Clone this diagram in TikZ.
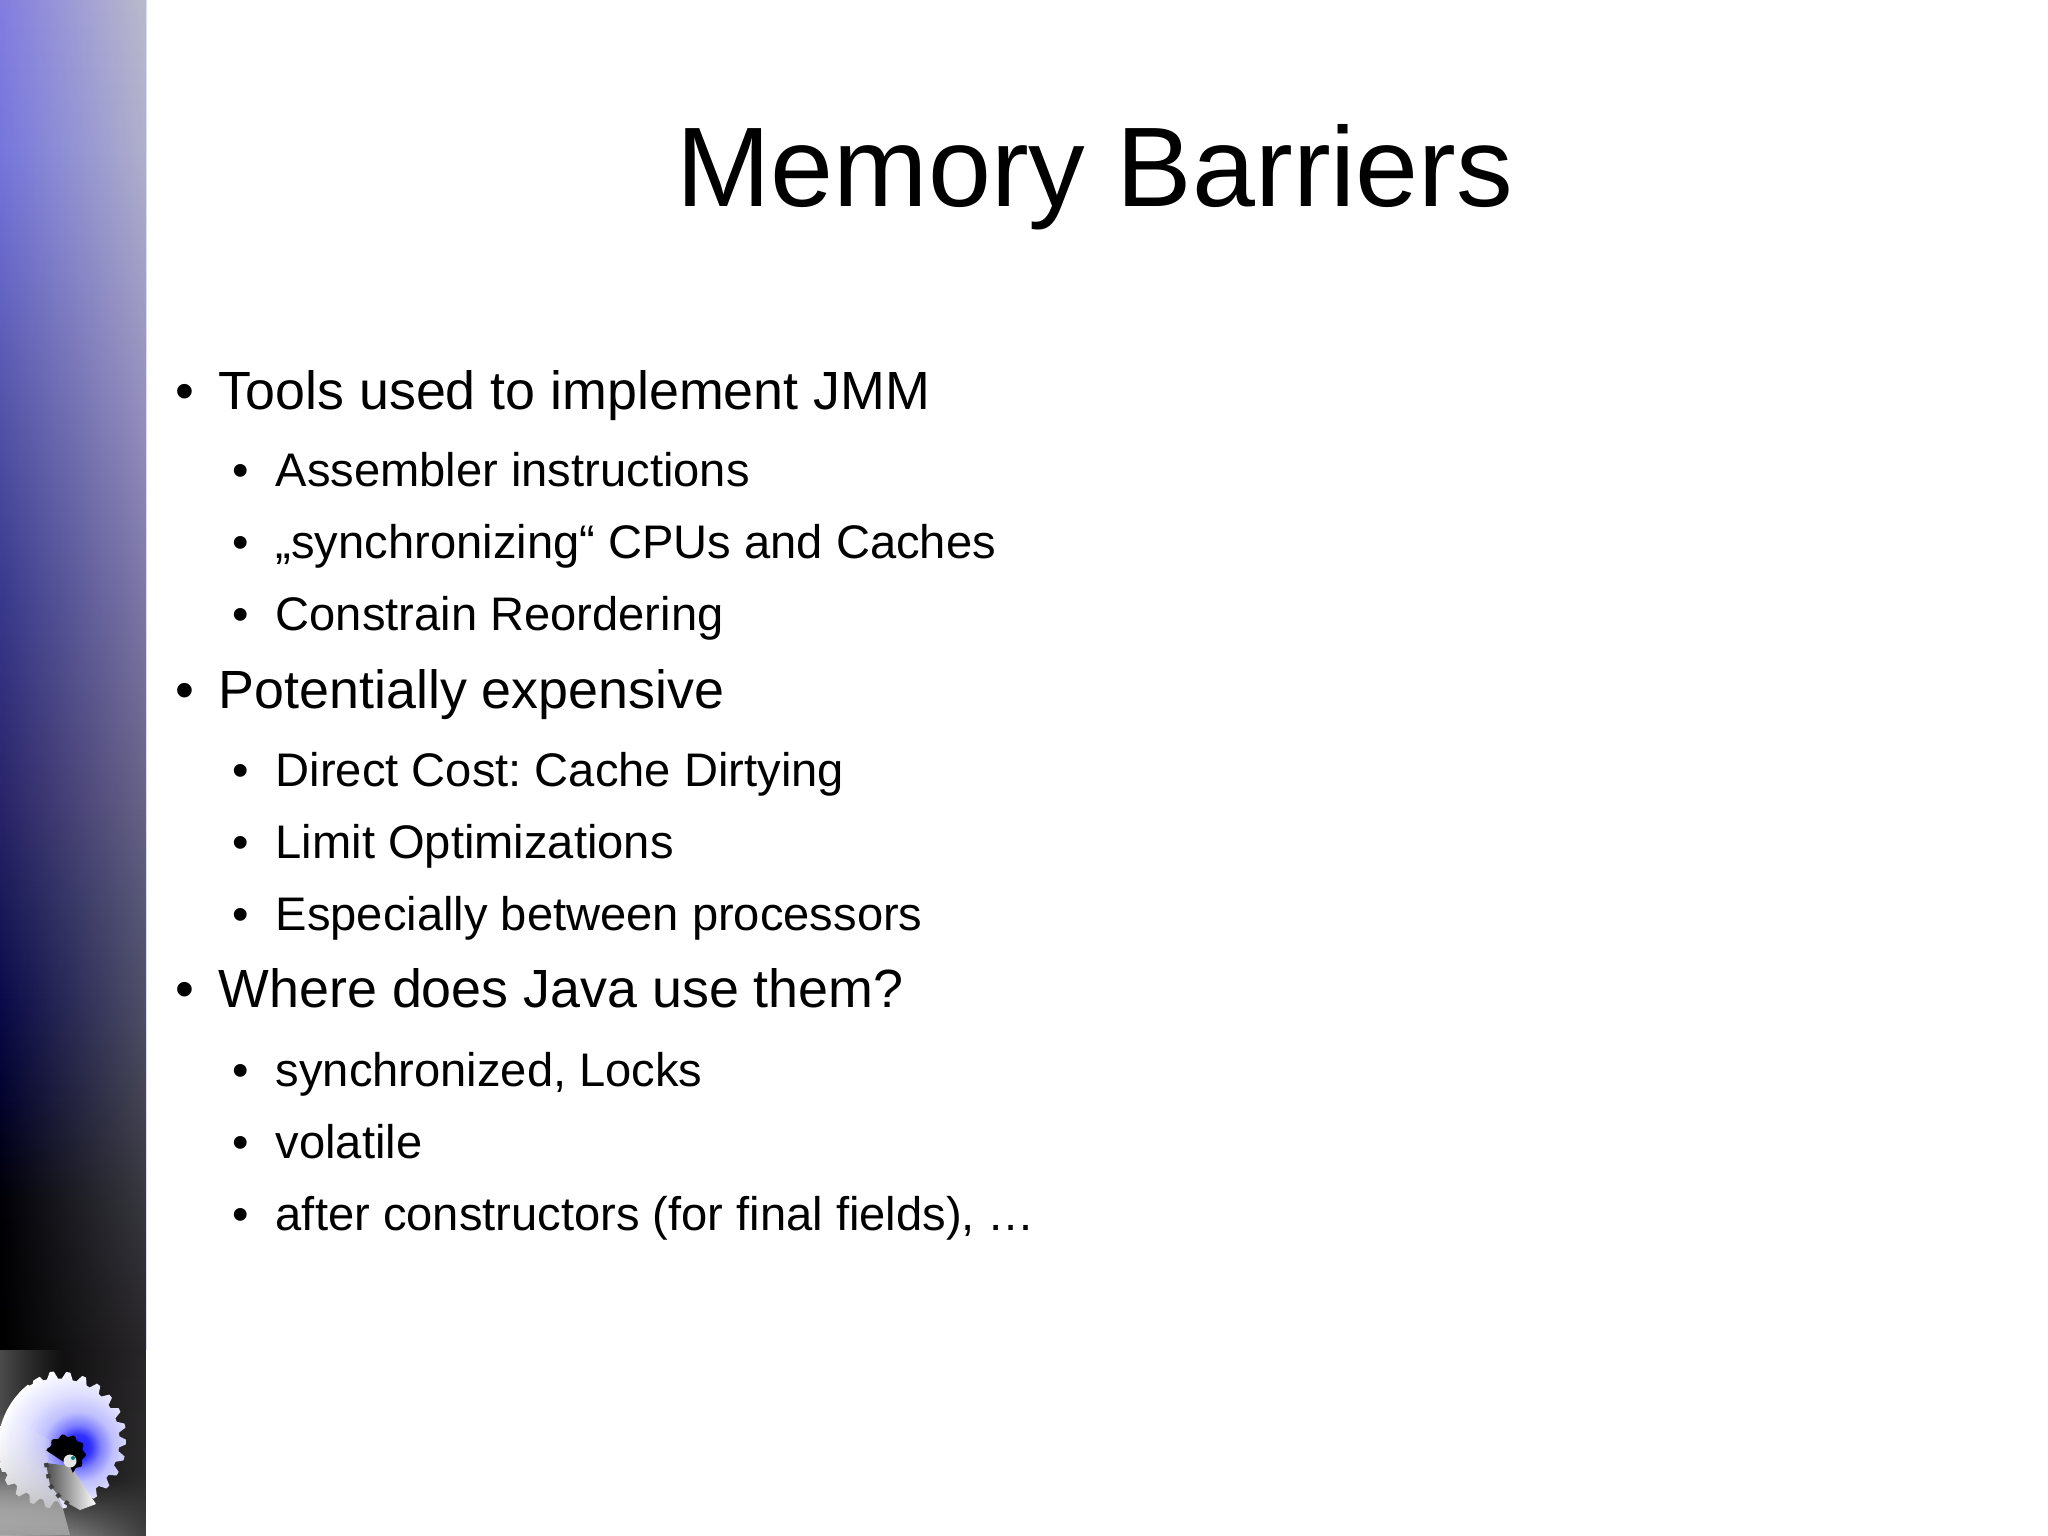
\documentclass[tikz,border=0pt]{standalone}
\usepackage{fontspec}
\setmainfont{Liberation Sans}
\frenchspacing
\usetikzlibrary{fadings}
\pgfdeclareverticalshading{barleft}{100bp}{%
rgb(0bp)=(0,0,0); rgb(31bp)=(0,0,0); rgb(35.9bp)=(0,0,.02);%
rgb(39.2bp)=(.01,.01,.18); rgb(42.4bp)=(.04,.04,.29); rgb(45.7bp)=(.1,.1,.35);%
rgb(48.9bp)=(.16,.14,.41); rgb(55.5bp)=(.22,.22,.55); rgb(62bp)=(.33,.33,.67);%
rgb(66.9bp)=(.41,.41,.8); rgb(70.1bp)=(.46,.46,.87); rgb(75bp)=(.51,.49,.88);%
rgb(100bp)=(.51,.49,.88)}
\pgfdeclareverticalshading{barright}{100bp}{%
rgb(0bp)=(.18,.18,.18); rgb(25bp)=(.18,.18,.18); rgb(31bp)=(.16,.15,.16); rgb(35.9bp)=(.22,.22,.25);%
rgb(39.2bp)=(.27,.27,.33); rgb(42.4bp)=(.31,.31,.41); rgb(45.7bp)=(.35,.35,.47);%
rgb(48.9bp)=(.41,.39,.53); rgb(55.5bp)=(.49,.47,.65); rgb(62bp)=(.59,.57,.75);%
rgb(70.1bp)=(.69,.69,.8); rgb(75bp)=(.73,.73,.8); rgb(100bp)=(.73,.73,.8)}
\pgfdeclareradialshading{gearglow}{\pgfpoint{0bp}{0bp}}{%
rgb(0bp)=(.1,.1,1); rgb(4bp)=(.2,.2,1); rgb(7bp)=(.5,.5,1); rgb(11bp)=(.75,.75,1);%
rgb(17bp)=(.88,.88,1); rgb(22bp)=(.95,.95,1); rgb(25bp)=(1,1,1);%
rgb(50bp)=(1,1,1)}
\tikzfading[name=barfade,left color=transparent!100,right color=transparent!0]
\tikzfading[name=patchfade,left color=transparent!0,right color=transparent!100]
\tikzfading[name=lowfade,top color=transparent!100,bottom color=transparent!0]
\tikzset{
  head/.style={anchor=base,inner sep=0pt,font=\fontsize{32.2}{34}\selectfont},
  lvlone/.style={anchor=base west,inner sep=0pt,font=\fontsize{15.3}{18}\selectfont},
  lvltwo/.style={anchor=base west,inner sep=0pt,font=\fontsize{13.4}{16}\selectfont},
  dotone/.style={anchor=base,inner sep=0pt,font=\fontsize{15.3}{18}\selectfont},
  dottwo/.style={anchor=base,inner sep=0pt,font=\fontsize{13.4}{16}\selectfont},
}
\begin{document}
\begin{tikzpicture}[x=0.01cm,y=-0.01cm]
    \def\w{145.5}
    \useasboundingbox (0,0) rectangle (2048,1535);
    \fill[white] (0,0) rectangle (2048,1535);
    % side bar
    \path[shading=barleft] (0,0) rectangle (\w,1535);
    \path[shading=barright,path fading=barfade] (0,0) rectangle (\w,1535);
    \fill[blue!15] (\w,0) rectangle (146.5,1350);
    % gear
    \begin{scope}
      \clip (0,1350) rectangle (\w,1535);
      \path[left color=black!70,right color=black!70,path fading=patchfade] (0,1350) rectangle (62,1430);
      \path[left color=black!30,right color=black!75,path fading=lowfade] (0,1480) rectangle (\w,1535);
      \begin{scope}
        \clip plot[domain=0:360,samples=105] ({58+(65+5*sin(\x*26+45))*cos(\x)},{1440+(65+5*sin(\x*26+45))*sin(\x)}) -- cycle;
        \path[shading=gearglow] (78,1447) circle (80);
      \end{scope}
      \path[top color=white,middle color=white!92!black,bottom color=black!38,path fading=lowfade] (0,1412) -- (50,1440) -- (47,1470) -- (62,1505) -- (70,1535) -- (0,1535) -- cycle;
      \path[left color=black!70,right color=white] (46,1463) -- (71,1466) -- (96,1504) -- (80,1510) -- (62,1500) -- (50,1485) -- cycle;
      \draw[black!75,line width=1.2pt,dotted] (46,1463) -- (50,1485) -- (62,1500) -- (72,1506);
      \fill[black] plot[domain=-170:70,samples=36] ({66+(18.5+1.5*sin(\x*42+45))*cos(\x)},{1454+(18.5+1.5*sin(\x*42+45))*sin(\x)}) -- (70,1466) -- cycle;
      \fill[white!90!black] (70,1461) circle (6.5);
      \fill[green!50!blue] (73,1458) circle (2);
    \end{scope}
    % title and list
    \node[head] (title) at (1095,206) {Memory Barriers};
    \node[lvlone] (tools) at (218,409) {Tools used to implement JMM};
    \node[lvltwo] (asm) at (275,486) {Assembler instructions};
    \node[lvltwo] (sync) at (275,558) {„synchronizing“ CPUs and Caches};
    \node[lvltwo] (reorder) at (275,630) {Constrain Reordering};
    \node[lvlone] (cost) at (218,708) {Potentially expensive};
    \node[lvltwo] (direct) at (275,786) {Direct Cost: Cache Dirtying};
    \node[lvltwo] (limit) at (275,858) {Limit Optimizations};
    \node[lvltwo] (procs) at (275,930) {Especially between processors};
    \node[lvlone] (java) at (218,1007) {Where does Java use them?};
    \node[lvltwo] (locks) at (275,1086) {synchronized, Locks};
    \node[lvltwo] (volat) at (275,1158) {volatile};
    \node[lvltwo] (ctor) at (275,1230) {after constructors (for final fields), …};
    \foreach \n/\y in {d1/409,d2/708,d3/1007}
      \node[dotone] (\n) at (185,\y) {•};
    \foreach \n/\y in {e1/486,e2/558,e3/630,e4/786,e5/858,e6/930,e7/1086,e8/1158,e9/1230}
      \node[dottwo] (\n) at (241,\y) {•};
\end{tikzpicture}
\end{document}
